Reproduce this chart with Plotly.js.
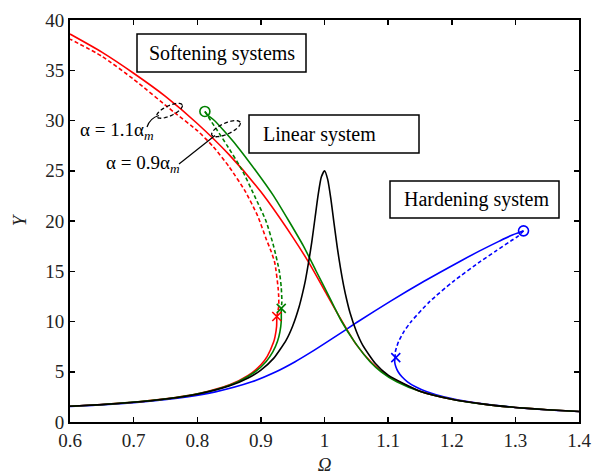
<!DOCTYPE html>
<html>
<head>
<meta charset="utf-8">
<script src="https://cdn.plot.ly/plotly-3.0.1.min.js"></script>
<style>html,body{margin:0;padding:0;background:#fff;}#chart{width:593px;height:475px;}</style>
</head>
<body>
<div id="chart"></div>
<script>
// ---- Data (Ω, Y) ----
// Linear system
const linOmega = [0.6,0.65,0.7,0.75,0.8,0.85,0.88,0.9,0.92,0.94,0.95,0.96,0.965,0.97,0.975,0.98,0.985,0.99,0.995,1.0,1.005,1.01,1.015,1.02,1.025,1.03,1.035,1.04,1.05,1.06,1.08,1.1,1.15,1.2,1.25,1.3,1.35,1.4];
const linY     = [1.56,1.73,1.96,2.29,2.77,3.58,4.38,5.17,6.33,8.18,9.56,11.45,12.68,14.1,15.9,17.9,20.25,22.6,24.37,25,24.14,22.2,19.76,17.4,15.35,13.6,12.14,10.9,9.03,7.65,5.82,4.66,3.07,2.27,1.78,1.45,1.22,1.04];

// Softening system, alpha = 1.1 alpha_m (red)
const softUpperOmega = [0.6,0.65,0.7,0.75,0.8,0.85,0.9,0.95,0.975,1.0,1.025,1.05,1.075,1.1,1.15,1.2,1.25,1.3,1.35,1.4];
const softUpperY     = [38.6,36.8,34.7,32.4,29.7,26.6,22.9,18.4,15.9,13.1,10.3,7.7,5.85,4.58,3.06,2.26,1.78,1.45,1.22,1.04];
const softLowerOmega = [0.925,0.9247,0.9223,0.92,0.91,0.9,0.88,0.85,0.8,0.75,0.7,0.65,0.6];
const softLowerY     = [10.5,9.5,8.5,7.95,6.53,5.69,4.63,3.68,2.8,2.3,1.97,1.74,1.57];
const softDashOmega  = [0.925,0.928,0.928,0.927,0.922,0.916,0.909,0.895,0.875,0.85,0.825,0.8,0.762,0.7,0.65,0.6];
const softDashY      = [10.5,11.5,12.5,13.4,15.8,17,18.1,20.5,23.0,25.4,27.4,29.0,30.9,34.1,36.4,38.1];

// Softening system, alpha = 0.9 alpha_m (green)
const soft2UpperOmega = [0.812,0.817,0.827,0.8416,0.862,0.892,0.92,0.944,0.967,0.987,1.011,1.027,1.047,1.0716,1.089,1.1136,1.152,1.2,1.25,1.3,1.35,1.4];
const soft2UpperY     = [30.9,30.5,30.0,29.0,27.5,25,22.5,20,17.5,15,12,10,8,6,5,4,3,2.27,1.78,1.45,1.22,1.04];
const soft2DashOmega  = [0.812,0.821,0.8316,0.847,0.871,0.890,0.908,0.920,0.929,0.932,0.933,0.932];
const soft2DashY      = [30.9,30.0,29.0,27.5,25,22.5,20,17.5,15,13.4,12,11.3];
const soft2LowerOmega = [0.932,0.932,0.930,0.926,0.919,0.908,0.891,0.864,0.8438,0.8155,0.774,0.706,0.6464,0.6];
const soft2LowerY     = [11.3,10,9,8,7,6,5,4,3.5,3,2.5,2,1.72,1.56];

// Hardening system (blue)
const hardUpperOmega = [0.6,0.6464,0.7133,0.7835,0.8284,0.8858,0.9238,0.9539,0.9802,1.0048,1.029,1.053,1.1033,1.1565,1.2134,1.2431,1.2748,1.2914,1.3128];
const hardUpperY     = [1.555,1.7,2,2.5,3,4,5,6,7,8,9,10,12,14,16,17,18,18.5,19.02];
const hardDashOmega  = [1.3128,1.3043,1.2926,1.2691,1.2457,1.2027,1.1656,1.1363,1.1248,1.1164,1.1114,1.111];
const hardDashY      = [19.02,18.5,18,17,16,14,12,10,9,8,7,6.4];
const hardLowerOmega = [1.111,1.1103,1.1121,1.1157,1.1217,1.1304,1.143,1.161,1.1873,1.227,1.292,1.3545,1.4];
const hardLowerY     = [6.4,6,5.5,5,4.5,4,3.5,3,2.5,2,1.5,1.2,1.05];

// Peak (circle) and jump-down (cross) points
const peakOmega = [0.812, 1.3128];
const peakY     = [30.9, 19.02];
const peakColors = ['#008000', '#0000ff'];
const jumpOmega = [0.925, 0.932, 1.112];
const jumpY     = [10.5, 11.3, 6.4];
const jumpColors = ['#ff0000', '#008000', '#0000ff'];

// Text labels
const boxLabels = ['Softening systems', 'Linear system', 'Hardening system'];
const alphaLabels = ['α = 1.1α<sub><i>m</i></sub>', 'α = 0.9α<sub><i>m</i></sub>'];

// ---- Layout geometry ----
const W = 593, H = 475;
const M = {l: 70, r: 14, t: 20, b: 53};
const XR = [0.6, 1.4], YR = [0, 40];
function dx(px){ return XR[0] + (px - M.l) / (W - M.l - M.r) * (XR[1] - XR[0]); }
function dy(py){ return YR[0] + (H - M.b - py) / (H - M.t - M.b) * (YR[1] - YR[0]); }

const RED = '#ff0000', GREEN = '#008000', BLUE = '#0000ff';
const LW = 1.6;
const DASH = '4px,2.5px';

function line(x, y, color, dash){
  return {x: x, y: y, type: 'scatter', mode: 'lines', hoverinfo: 'skip',
    line: {color: color, width: LW, dash: dash || 'solid', shape: 'spline', smoothing: 0.6}};
}

const traces = [
  line(hardUpperOmega, hardUpperY, BLUE),
  line(hardDashOmega, hardDashY, BLUE, DASH),
  line(hardLowerOmega, hardLowerY, BLUE),
  line(softUpperOmega, softUpperY, RED),
  line(softDashOmega, softDashY, RED, DASH),
  line(softLowerOmega, softLowerY, RED),
  line(soft2UpperOmega, soft2UpperY, GREEN),
  line(soft2DashOmega, soft2DashY, GREEN, DASH),
  line(soft2LowerOmega, soft2LowerY, GREEN),
  line(linOmega, linY, '#000000'),
  {x: peakOmega, y: peakY, type: 'scatter', mode: 'markers', hoverinfo: 'skip',
   marker: {symbol: 'circle-open', size: 10, color: peakColors, line: {width: 1.6, color: peakColors}}},
  {x: jumpOmega, y: jumpY, type: 'scatter', mode: 'markers', hoverinfo: 'skip',
   marker: {symbol: 'x-thin-open', size: 9, color: jumpColors, line: {width: 1.6, color: jumpColors}}}
];

function ellipsePath(cx, cy, a, b, angDeg){
  const th = angDeg * Math.PI / 180;
  let p = '';
  const n = 48;
  for (let i = 0; i <= n; i++){
    const t = 2 * Math.PI * i / n;
    const px = cx + a * Math.cos(t) * Math.cos(th) - b * Math.sin(t) * Math.sin(th);
    const py = cy - (a * Math.cos(t) * Math.sin(th) + b * Math.sin(t) * Math.cos(th));
    p += (i === 0 ? 'M' : 'L') + dx(px).toFixed(5) + ',' + dy(py).toFixed(4) + ' ';
  }
  return p + 'Z';
}

function rect(x0, y0, x1, y1){
  return {type: 'rect', xref: 'x', yref: 'y', x0: dx(x0), x1: dx(x1), y0: dy(y1), y1: dy(y0),
    line: {color: '#000', width: 1.5}, fillcolor: '#fff', layer: 'above'};
}

const shapes = [
  rect(137, 34, 306, 72),
  rect(249, 115, 419, 153),
  rect(390, 181, 559, 218),
  {type: 'path', xref: 'x', yref: 'y', path: ellipsePath(169.5, 110.8, 14, 5, 25),
   line: {color: '#000', width: 1.3, dash: '4px,2.5px'}},
  {type: 'path', xref: 'x', yref: 'y', path: ellipsePath(226, 128.7, 15.5, 5.5, 24),
   line: {color: '#000', width: 1.3, dash: '4px,2.5px'}},
  {type: 'path', xref: 'x', yref: 'y',
   path: 'M' + dx(147) + ',' + dy(127) + ' Q' + dx(150) + ',' + dy(118) + ' ' + dx(159) + ',' + dy(115.5),
   line: {color: '#000', width: 1.2}},
  {type: 'path', xref: 'x', yref: 'y',
   path: 'M' + dx(179) + ',' + dy(164) + ' L' + dx(215) + ',' + dy(135.5),
   line: {color: '#000', width: 1.2}}
];

const SERIF = 'Liberation Serif, Times New Roman, serif';
function txt(s, px, py, size){
  return {text: s, x: dx(px), y: dy(py), xref: 'x', yref: 'y', xanchor: 'left', yanchor: 'middle',
    showarrow: false, font: {family: SERIF, size: size, color: '#000'}};
}
const annotations = [
  txt(boxLabels[0], 147, 53, 20),
  txt(boxLabels[1], 261, 134, 20),
  txt(boxLabels[2], 402, 199.5, 20),
  txt(alphaLabels[0], 78, 131, 19),
  txt(alphaLabels[1], 104, 164, 19)
];

const axisCommon = {
  showgrid: false, zeroline: false, showline: true, linecolor: '#000', linewidth: 2,
  mirror: 'ticks', ticks: 'inside', ticklen: 5, tickwidth: 1.5, tickcolor: '#000',
  tickfont: {family: SERIF, size: 19, color: '#222'}
};

const layout = {
  width: W, height: H,
  margin: M,
  paper_bgcolor: '#fff', plot_bgcolor: '#fff',
  showlegend: false,
  xaxis: Object.assign({}, axisCommon, {range: XR, dtick: 0.1, tick0: 0.6,
    title: {text: '<i>Ω</i>', font: {family: SERIF, size: 19, color: '#222'}, standoff: 10}}),
  yaxis: Object.assign({}, axisCommon, {range: YR, dtick: 5, tick0: 0,
    title: {text: '<i>Y</i>', font: {family: SERIF, size: 19, color: '#222'}, standoff: 14}}),
  shapes: shapes,
  annotations: annotations
};

Plotly.newPlot('chart', traces, layout, {displayModeBar: false, staticPlot: true});
</script>
</body>
</html>
